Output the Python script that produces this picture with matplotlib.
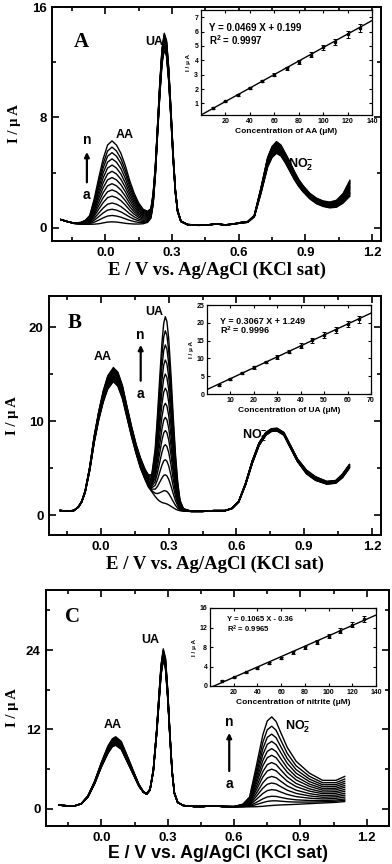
import numpy as np
import matplotlib.pyplot as plt

SANS = 'Liberation Sans'
SERIF = 'Liberation Serif'
plt.rcParams['font.family'] = [SANS, 'DejaVu Sans']
plt.rcParams['font.weight'] = 'bold'
plt.rcParams['mathtext.fontset'] = 'custom'
plt.rcParams['mathtext.rm'] = 'Liberation Sans:bold'
plt.rcParams['mathtext.it'] = 'Liberation Sans:bold'
plt.rcParams['mathtext.bf'] = 'Liberation Sans:bold'

# ---- panel A : AA additions (curve a = lowest, curve n = highest)
e_a = [-0.20, -0.17, -0.14, -0.11, -0.09, -0.07, -0.05, -0.03, -0.01, 0.01,
       0.03, 0.05, 0.07, 0.09, 0.11, 0.13, 0.15, 0.17, 0.19, 0.205,
       0.215, 0.225, 0.235, 0.245, 0.255, 0.265, 0.275, 0.285, 0.295, 0.305,
       0.315, 0.325, 0.34, 0.37, 0.42, 0.46, 0.50, 0.54, 0.58, 0.61,
       0.64, 0.67, 0.70, 0.73, 0.75, 0.77, 0.79, 0.81, 0.83, 0.85,
       0.87, 0.89, 0.92, 0.95, 0.98, 1.01, 1.04, 1.07, 1.10]
i_a_low = [0.60, 0.45, 0.32, 0.27, 0.26, 0.26, 0.27, 0.30, 0.36, 0.42,
           0.44, 0.42, 0.38, 0.33, 0.30, 0.28, 0.28, 0.30, 0.40, 0.70,
           1.7, 3.8, 6.8, 9.6, 11.9, 12.9, 12.45, 10.6, 7.9, 4.9,
           2.5, 1.15, 0.45, 0.22, 0.18, 0.20, 0.28, 0.20, 0.28, 0.35,
           0.40, 0.80, 2.5, 4.4, 5.1, 5.4, 5.2, 4.7, 4.1, 3.5,
           3.0, 2.6, 2.1, 1.75, 1.55, 1.45, 1.5, 1.8, 2.3]
i_a_high = [0.60, 0.45, 0.35, 0.40, 0.55, 0.90, 2.1, 3.6, 5.0, 6.0,
            6.3, 6.0, 5.4, 4.5, 3.4, 2.5, 1.8, 1.35, 1.2, 1.4,
            2.5, 4.5, 7.5, 10.5, 13.0, 14.1, 13.6, 11.6, 8.6, 5.4,
            2.8, 1.3, 0.50, 0.25, 0.20, 0.22, 0.30, 0.22, 0.30, 0.40,
            0.45, 0.90, 2.9, 5.1, 5.9, 6.25, 6.0, 5.4, 4.8, 4.1,
            3.5, 3.05, 2.5, 2.15, 1.95, 1.87, 2.0, 2.5, 3.45]
aa_peaks = [0.44, 0.9, 1.35, 1.8, 2.3, 2.75, 3.2, 3.65, 4.1, 4.55, 5.0, 5.45, 5.85, 6.3]

# ---- panel B : UA additions
e_b = [-0.18, -0.15, -0.12, -0.10, -0.085, -0.07, -0.05, -0.03, -0.01, 0.01,
       0.03, 0.055, 0.075, 0.095, 0.115, 0.135, 0.155, 0.175, 0.195, 0.21,
       0.225, 0.24, 0.25, 0.26, 0.27, 0.278, 0.285, 0.292, 0.30, 0.31,
       0.32, 0.33, 0.34, 0.35, 0.365, 0.40, 0.45, 0.50, 0.55, 0.58,
       0.61, 0.64, 0.67, 0.70, 0.73, 0.755, 0.78, 0.81, 0.84, 0.87,
       0.91, 0.95, 1.0, 1.04, 1.07, 1.10]
i_b_low = [0.5, 0.45, 0.5, 0.85, 1.4, 2.4, 4.7, 7.7, 10.1, 12.0,
           13.4, 14.2, 13.7, 12.4, 10.4, 8.4, 6.6, 5.0, 3.8, 3.0,
           2.5, 2.0, 1.7, 1.5, 1.35, 1.3, 1.25, 1.2, 1.1, 0.95,
           0.8, 0.65, 0.55, 0.48, 0.43, 0.40, 0.40, 0.48, 0.48, 0.70,
           1.4, 3.2, 5.5, 7.4, 8.5, 8.9, 8.95, 8.5, 7.1, 5.7,
           4.4, 3.7, 3.3, 3.4, 4.0, 5.0]
i_b_high = [0.5, 0.45, 0.5, 0.9, 1.5, 2.6, 5.1, 8.4, 11.0, 13.2,
            14.8, 15.7, 15.2, 13.8, 11.6, 9.5, 7.6, 6.1, 4.9, 4.3,
            4.3, 7.0, 10.5, 14.5, 18.3, 20.4, 21.1, 20.6, 18.8, 15.0,
            10.5, 6.5, 3.5, 1.6, 0.7, 0.42, 0.42, 0.5, 0.5, 0.75,
            1.5, 3.4, 5.8, 7.7, 8.8, 9.2, 9.25, 8.8, 7.4, 6.0,
            4.8, 4.1, 3.6, 3.7, 4.4, 5.4]
ua_peaks = [1.25, 2.6, 4.3, 5.9, 7.5, 9.0, 10.4, 11.9, 13.5, 15.0, 16.5, 18.1, 19.6, 21.1]

# ---- panel C : nitrite additions
e_c = [-0.19, -0.15, -0.12, -0.09, -0.06, -0.03, 0.0, 0.03, 0.05, 0.065,
       0.09, 0.12, 0.15, 0.17, 0.19, 0.205, 0.22, 0.235, 0.25, 0.26,
       0.27, 0.28, 0.29, 0.30, 0.31, 0.32, 0.33, 0.345, 0.37, 0.42,
       0.46, 0.50, 0.55, 0.60, 0.64, 0.67, 0.70, 0.73, 0.75, 0.77,
       0.79, 0.81, 0.84, 0.88, 0.94, 1.0, 1.06, 1.10]
i_c_low = [0.55, 0.45, 0.45, 0.75, 1.8, 3.8, 6.3, 8.4, 9.4, 9.6,
           9.0, 6.9, 4.8, 3.4, 2.5, 2.2, 2.8, 5.6, 11.2, 15.8,
           20.3, 22.5, 21.2, 16.7, 10.7, 5.4, 2.3, 0.95, 0.5, 0.35,
           0.35, 0.45, 0.35, 0.30, 0.30, 0.30, 0.32, 0.38, 0.45, 0.50,
           0.55, 0.58, 0.62, 0.68, 0.78, 0.88, 0.98, 1.1]
i_c_high = [0.55, 0.45, 0.45, 0.8, 2.0, 4.2, 7.0, 9.5, 10.6, 10.9,
            10.2, 7.8, 5.3, 3.7, 2.6, 2.3, 3.0, 6.0, 12.0, 17.0,
            21.8, 24.2, 22.8, 18.0, 11.5, 5.8, 2.5, 1.0, 0.5, 0.35,
            0.35, 0.45, 0.35, 0.35, 0.7, 1.8, 6.4, 11.2, 13.3, 13.9,
            13.2, 11.6, 9.3, 7.2, 5.4, 4.3, 4.3, 4.9]
no2_peaks = [0.5, 1.2, 1.9, 2.9, 3.9, 4.9, 6.0, 7.0, 8.1, 9.1, 10.2, 11.3, 12.5, 13.9]

# ---- calibration insets
conc_aa = [10, 20, 30, 40, 50, 60, 70, 80, 90, 100, 110, 120, 130]
cur_aa = [0.68, 1.15, 1.58, 2.05, 2.55, 3.0, 3.45, 3.9, 4.4, 4.9, 5.3, 5.8, 6.25]
err_aa = [0.05, 0.05, 0.06, 0.07, 0.08, 0.1, 0.12, 0.14, 0.16, 0.18, 0.2, 0.22, 0.25]
conc_ua = [5, 10, 15, 20, 25, 30, 35, 40, 45, 50, 55, 60, 65]
cur_ua = [2.6, 4.3, 5.9, 7.5, 9.0, 10.4, 11.9, 13.6, 15.1, 16.6, 18.0, 19.6, 21.0]
err_ua = [0.3, 0.3, 0.3, 0.35, 0.4, 0.45, 0.5, 0.6, 0.7, 0.8, 0.9, 0.9, 1.0]
conc_no2 = [10, 20, 30, 40, 50, 60, 70, 80, 90, 100, 110, 120, 130]
cur_no2 = [1.1, 1.8, 2.8, 3.7, 4.8, 5.7, 6.9, 7.9, 9.1, 10.2, 11.3, 12.6, 13.8]
err_no2 = [0.1, 0.1, 0.12, 0.15, 0.2, 0.25, 0.3, 0.35, 0.4, 0.45, 0.5, 0.55, 0.6]
fit_aa = (0.0469, 0.199)
fit_ua = (0.3067, 1.249)
fit_no2 = (0.1065, -0.36)

W, H = 392, 864


def box(l, r, t, b):
    return [l / W, 1 - b / H, (r - l) / W, (b - t) / H]


def draw_family(ax, e, low, high, peaks):
    e = np.array(e)
    low = np.array(low)
    high = np.array(high)
    for h in peaks:
        f = (h - peaks[0]) / (peaks[-1] - peaks[0])
        ax.plot(e, low + f * (high - low), color='black', lw=1.0)


def style_main(ax, xlim, ylim, yticks, yminor):
    ax.set_xlim(*xlim)
    ax.set_ylim(*ylim)
    ax.set_xticks([0.0, 0.3, 0.6, 0.9, 1.2])
    ax.set_xticklabels(['0.0', '0.3', '0.6', '0.9', '1.2'])
    ax.set_xticks([-0.15, 0.15, 0.45, 0.75, 1.05], minor=True)
    ax.set_yticks(yticks)
    ax.set_yticks(yminor, minor=True)
    ax.tick_params(which='both', direction='in', top=True, right=True,
                   width=1.2, labelsize=9.5)
    ax.tick_params(which='major', length=5, pad=4)
    ax.tick_params(which='minor', length=3)
    for lab in ax.get_xticklabels() + ax.get_yticklabels():
        lab.set_fontweight('bold')
    for s in ax.spines.values():
        s.set_linewidth(1.4)


def style_inset(ax, xlim, ylim, xticks, yticks, xlabel):
    ax.set_xlim(*xlim)
    ax.set_ylim(*ylim)
    ax.set_xticks(xticks)
    ax.set_yticks(yticks)
    ax.tick_params(which='both', direction='in', top=True, right=True,
                   width=0.8, length=2.5, labelsize=5, pad=2)
    for s in ax.spines.values():
        s.set_linewidth(0.9)
    ax.set_xlabel(xlabel, fontsize=6, fontweight='bold', labelpad=2)
    ax.set_ylabel('I / μ A', fontsize=4.5, fontweight='bold', labelpad=2)


def inset_data(ax, conc, cur, err, fit, xlim, eq, r2, fs, tx, ty):
    ax.errorbar(conc, cur, yerr=err, fmt='s', ms=1.5, color='black',
                ecolor='black', elinewidth=0.7, capsize=1.5, capthick=0.7)
    xs = np.array(xlim)
    ax.plot(xs, fit[0] * xs + fit[1], color='black', lw=1.0)
    ax.text(tx, ty[0], eq, transform=ax.transAxes, fontsize=fs,
            fontweight='bold', va='center')
    ax.text(tx, ty[1], r2, transform=ax.transAxes, fontsize=fs,
            fontweight='bold', va='center')


def arrow(ax, x, y0, y1, ylab_n, ylab_a):
    ax.annotate('', xy=(x, y1), xytext=(x, y0),
                arrowprops=dict(arrowstyle='-|>', color='black', lw=1.6,
                                mutation_scale=7))
    ax.text(x, ylab_n, 'n', ha='center', va='center', fontsize=10, fontweight='bold')
    ax.text(x, ylab_a, 'a', ha='center', va='center', fontsize=10, fontweight='bold')


fig = plt.figure(figsize=(W / 100, H / 100), dpi=100)

# ================= A
ax = fig.add_axes(box(52, 381, 7, 241))
draw_family(ax, e_a, i_a_low, i_a_high, aa_peaks)
style_main(ax, (-0.24, 1.24), (-0.95, 16.0), [0, 8, 16], [4, 12])
ax.set_xlabel('E / V vs. Ag/AgCl (KCl sat)', family=SERIF, fontsize=13.5,
              fontweight='bold', labelpad=2)
ax.set_ylabel('I / μ A', family=SERIF, fontsize=10.5, fontweight='bold', labelpad=8)
ax.text(-0.11, 13.5, 'A', family=SERIF, fontsize=15, fontweight='bold', ha='center', va='center')
ax.text(0.085, 6.7, 'AA', fontsize=9, fontweight='bold', ha='center', va='center')
ax.text(0.222, 13.5, 'UA', fontsize=9, fontweight='bold', ha='center', va='center')
ax.text(0.88, 4.6, r'NO$_2^{-}$', fontsize=9, fontweight='bold', ha='center', va='center')
arrow(ax, -0.083, 3.1, 5.7, 6.4, 2.4)

ins = fig.add_axes(box(201, 372, 10, 115))
style_inset(ins, (0, 140), (0.2, 7.5), [20, 40, 60, 80, 100, 120, 140],
            [1, 2, 3, 4, 5, 6, 7], 'Concentration of AA (μM)')
inset_data(ins, conc_aa, cur_aa, err_aa, fit_aa, (0, 140),
           'Y = 0.0469 X + 0.199', r'R$^2$ = 0.9997', 7, 0.045, (0.83, 0.71))

# ================= B
ax = fig.add_axes(box(49, 381, 296, 535))
draw_family(ax, e_b, i_b_low, i_b_high, ua_peaks)
style_main(ax, (-0.23, 1.24), (-2.1, 23.3), [0, 10, 20], [5, 15])
ax.set_xlabel('E / V vs. Ag/AgCl (KCl sat)', family=SERIF, fontsize=13.5,
              fontweight='bold', labelpad=2)
ax.set_ylabel('I / μ A', family=SERIF, fontsize=10.5, fontweight='bold', labelpad=7)
ax.text(-0.115, 20.4, 'B', family=SERIF, fontsize=15, fontweight='bold', ha='center', va='center')
ax.text(0.007, 16.8, 'AA', fontsize=9, fontweight='bold', ha='center', va='center')
ax.text(0.235, 21.6, 'UA', fontsize=9, fontweight='bold', ha='center', va='center')
ax.text(0.68, 8.5, r'NO$_2^{-}$', fontsize=9, fontweight='bold', ha='center', va='center')
arrow(ax, 0.176, 14.0, 18.4, 19.2, 12.9)

ins = fig.add_axes(box(207, 371, 305, 394))
style_inset(ins, (0, 70), (0, 25), [10, 20, 30, 40, 50, 60, 70],
            [0, 5, 10, 15, 20, 25], 'Concentration of UA (μM)')
inset_data(ins, conc_ua, cur_ua, err_ua, fit_ua, (0, 70),
           'Y = 0.3067 X + 1.249', r'R$^2$ = 0.9996', 6.5, 0.08, (0.82, 0.72))

# ================= C
ax = fig.add_axes(box(46, 389, 590, 826))
draw_family(ax, e_c, i_c_low, i_c_high, no2_peaks)
style_main(ax, (-0.25, 1.30), (-2.6, 33.1), [0, 12, 24], [6, 18, 30])
ax.set_xlabel('E / V vs. Ag/AgCl (KCl sat)', fontsize=12.8,
              fontweight='bold', labelpad=1)
ax.set_ylabel('I / μ A', family=SERIF, fontsize=10.5, fontweight='bold', labelpad=5)
ax.text(-0.128, 29.0, 'C', family=SERIF, fontsize=15, fontweight='bold', ha='center', va='center')
ax.text(0.053, 12.7, 'AA', fontsize=9, fontweight='bold', ha='center', va='center')
ax.text(0.22, 25.5, 'UA', fontsize=9, fontweight='bold', ha='center', va='center')
ax.text(0.886, 12.4, r'NO$_2^{-}$', fontsize=9, fontweight='bold', ha='center', va='center')
arrow(ax, 0.578, 5.3, 11.9, 13.2, 3.8)

ins = fig.add_axes(box(210, 376, 608, 686))
style_inset(ins, (0, 140), (0, 16), [20, 40, 60, 80, 100, 120, 140],
            [0, 4, 8, 12, 16], 'Concentration of nitrite (μM)')
inset_data(ins, conc_no2, cur_no2, err_no2, fit_no2, (0, 140),
           'Y = 0.1065 X - 0.36', r'R$^2$ = 0.9965', 5.5, 0.1, (0.85, 0.73))

fig.savefig('out.png', dpi=100)
